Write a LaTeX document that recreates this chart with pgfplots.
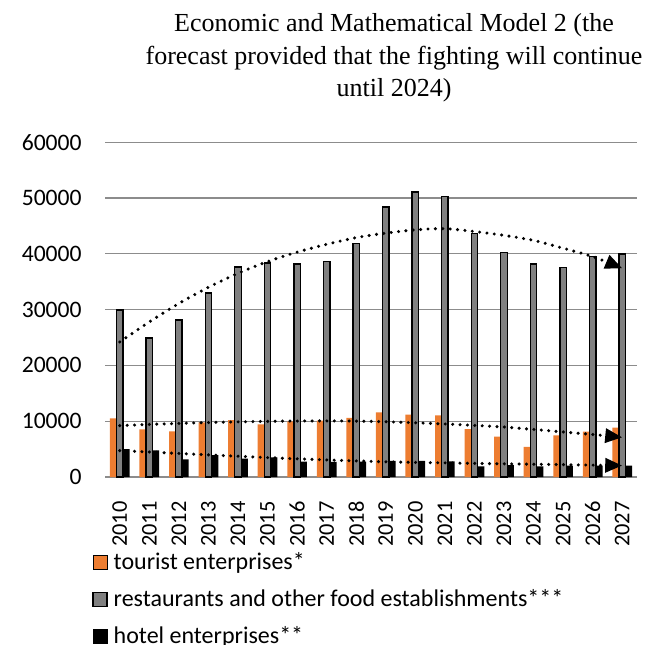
\documentclass[border=0pt]{standalone}
\usepackage{pgfplots}
\usepackage{pgfplotstable}
\pgfplotsset{compat=1.18}
\usepackage{fontspec}
\setmainfont{Carlito}
\newfontfamily\titlefont{Liberation Serif}
\usetikzlibrary{arrows.meta}

\definecolor{torange}{RGB}{237,125,49}
\definecolor{rgray}{RGB}{128,128,128}
\definecolor{gridgray}{RGB}{140,140,140}

% yearly counts of enterprises (x = year - 2010)
\pgfplotstableread{
x tour rest hotel
0  10500 29950 4980
1  8550  24920 4780
2  8180  28140 3170
3  9800  32980 3940
4  10180 37630 3290
5  9410  38350 3520
6  9980  38170 2750
7  10100 38590 2690
8  10600 41880 2750
9  11590 48390 2870
10 11170 51080 2870
11 11050 50300 2810
12 8600  43670 1910
13 7230  40260 2150
14 5380  38170 1910
15 7470  37510 2030
16 8120  39490 2030
17 8840  39960 2030
}\datatable

\tikzset{trend/.style={smooth, black, line width=1.7bp, line cap=round,
  dash pattern=on 0pt off 3.7bp, -{Triangle[length=8.5bp,width=7bp]}}}

\begin{document}
\begin{tikzpicture}
\path[use as bounding box] (-52.5bp,-84bp) rectangle (275.5bp,238.5bp);
\begin{axis}[
  at={(0,0)}, anchor=south west,
  scale only axis, width=266bp, height=167.4bp,
  xmin=-0.5, xmax=17.5, ymin=0, ymax=60000,
  xtick={0,...,17},
  xticklabels={2010,2011,2012,2013,2014,2015,2016,2017,2018,2019,2020,2021,2022,2023,2024,2025,2026,2027},
  ytick={0,10000,20000,30000,40000,50000,60000},
  ymajorgrids, grid style={gridgray, line width=0.65bp},
  axis line style={draw=none}, major tick length=0pt,
  /pgf/number format/assume math mode=true,
  /pgf/number format/1000 sep={},
  scaled y ticks=false,
  yticklabel style={font=\fontsize{11.8bp}{14bp}\selectfont, anchor=east, inner xsep=11.5bp},
  xticklabel style={font=\fontsize{11.2bp}{13bp}\selectfont, rotate=90, anchor=east, inner xsep=12bp},
  legend image code/.code={\draw[#1] (0bp,-3.25bp) rectangle (7bp,3.75bp);},
  legend cell align=left,
  legend style={draw=none, fill=none, at={(axis description cs:-0.0244,-0.221)}, anchor=north west,
    inner sep=0pt, column sep=3bp, row sep=7bp,
    font=\fontsize{12bp}{14bp}\selectfont,
    nodes={inner sep=0pt, text height=9bp, text depth=2.5bp}},
]
\addplot[ybar, bar width=3.25bp, bar shift=-3.3bp, fill=torange, draw=none]
  table[x=x, y=tour] {\datatable};
\addlegendentry{tourist enterprises*}
\addplot[ybar, bar width=3.25bp, bar shift=0bp, fill=rgray, draw=black, line width=0.65bp]
  table[x=x, y=rest] {\datatable};
\addlegendentry{restaurants and other food establishments***}
\addplot[ybar, bar width=3.25bp, bar shift=3.3bp, fill=black, draw=none]
  table[x=x, y=hotel] {\datatable};
\addlegendentry{hotel enterprises**}

% dotted trend lines with forecast arrows
\addplot[trend, forget plot] coordinates {
  (0,24200) (1,27800) (2,31100) (3,34000) (4,36500) (5,38600) (6,40300)
  (7,41700) (8,42900) (9,43700) (10,44300) (11,44500) (12,44000) (13,43300)
  (14,42400) (15,41000) (16,39500) (17,37400)};
\addplot[trend, forget plot] coordinates {
  (0,9200) (1,9420) (2,9600) (3,9760) (4,9880) (5,9970) (6,10030) (7,10050)
  (8,10020) (9,9900) (10,9720) (11,9500) (12,9250) (13,8960) (14,8530)
  (15,8080) (16,7620) (17,7110)};
\addplot[trend, forget plot] coordinates {
  (0,4720) (1,4480) (2,4220) (3,3970) (4,3720) (5,3480) (6,3260) (7,3060)
  (8,2880) (9,2720) (10,2610) (11,2530) (12,2440) (13,2360) (14,2290)
  (15,2210) (16,2130) (17,2050)};
\end{axis}
\begin{scope}[every node/.style={anchor=base, inner sep=0pt, font=\titlefont\fontsize{13bp}{16bp}\selectfont}]
\node at (144.5bp,222.5bp) {Economic and Mathematical Model 2 (the};
\node at (144.5bp,206.25bp) {forecast provided that the fighting will continue};
\node at (144.5bp,190bp) {until 2024)};
\end{scope}
\end{tikzpicture}
\end{document}
